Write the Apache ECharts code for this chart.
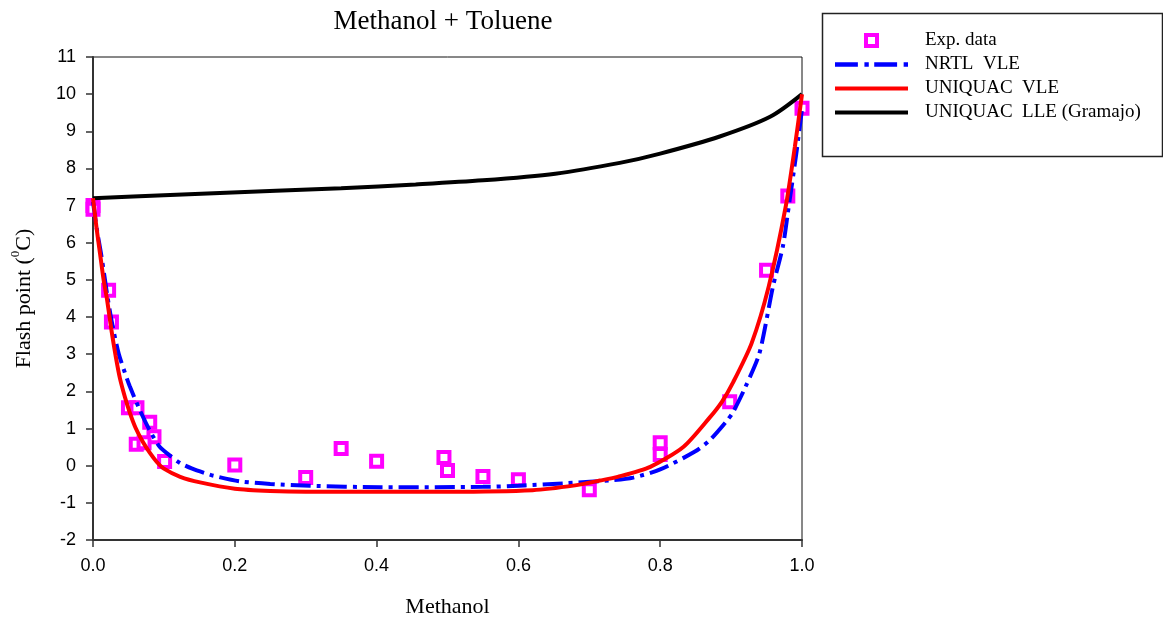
<!DOCTYPE html>
<html>
<head>
<meta charset="utf-8">
<script src="https://cdn.jsdelivr.net/npm/echarts@6/dist/echarts.min.js"></script>
<style>
html,body{margin:0;padding:0;background:#fff;}
#chart{width:1163px;height:620px;}
</style>
</head>
<body>
<div id="chart"></div>
<script>
// ---- data ----
const titleText = 'Methanol + Toluene';
const xTicks = [0.0, 0.2, 0.4, 0.6, 0.8, 1.0];
const yTicks = [-2, -1, 0, 1, 2, 3, 4, 5, 6, 7, 8, 9, 10, 11];
const seriesNames = ['Exp. data', 'NRTL  VLE', 'UNIQUAC  VLE', 'UNIQUAC  LLE (Gramajo)'];

const expData = [
  [0.0, 7.0], [0.0, 6.9], [0.022, 4.72], [0.026, 3.87], [0.05, 1.56], [0.062, 1.56],
  [0.08, 1.17], [0.086, 0.78], [0.061, 0.58], [0.072, 0.62], [0.101, 0.11],
  [0.2, 0.02], [0.3, -0.32], [0.35, 0.46], [0.4, 0.12], [0.495, 0.22], [0.5, -0.13],
  [0.55, -0.29], [0.6, -0.38], [0.7, -0.65], [0.8, 0.62], [0.8, 0.3],
  [0.898, 1.72], [0.95, 5.26], [0.98, 7.26], [1.0, 9.62]
];

const nrtlVle = [
  [0.0, 7.1], [0.006, 6.3], [0.012, 5.63], [0.02, 4.6], [0.026, 3.92], [0.036, 3.03],
  [0.045, 2.5], [0.052, 2.13], [0.066, 1.5], [0.08, 0.95], [0.094, 0.51], [0.11, 0.25],
  [0.123, 0.07], [0.14, -0.08], [0.158, -0.2], [0.17, -0.27], [0.207, -0.42],
  [0.25, -0.49], [0.306, -0.54], [0.405, -0.58], [0.55, -0.57], [0.6, -0.54],
  [0.668, -0.47], [0.733, -0.39], [0.762, -0.32], [0.8, -0.1], [0.849, 0.38],
  [0.87, 0.69], [0.894, 1.21], [0.903, 1.45], [0.92, 2.11], [0.94, 3.03],
  [0.959, 4.82], [0.973, 5.9], [0.98, 6.8], [0.992, 8.41], [1.0, 9.6]
];

const uniquacVle = [
  [0.0, 7.2], [0.005, 6.4], [0.01, 5.7], [0.015, 5.0], [0.02, 4.45], [0.026, 3.65],
  [0.032, 2.95], [0.038, 2.35], [0.045, 1.85], [0.052, 1.42], [0.06, 1.02],
  [0.07, 0.65], [0.08, 0.35], [0.09, 0.1], [0.1, -0.08], [0.123, -0.3], [0.151, -0.45],
  [0.2, -0.62], [0.25, -0.68], [0.3, -0.7], [0.4, -0.7], [0.5, -0.7], [0.62, -0.66],
  [0.68, -0.53], [0.715, -0.4], [0.74, -0.3], [0.786, -0.03], [0.833, 0.51],
  [0.87, 1.3], [0.887, 1.72], [0.903, 2.25], [0.929, 3.3], [0.953, 4.82],
  [0.977, 6.97], [0.99, 8.59], [1.0, 10.0]
];

const uniquacLle = [
  [0.0, 7.2], [0.1, 7.28], [0.258, 7.4], [0.35, 7.47], [0.455, 7.57], [0.55, 7.68],
  [0.652, 7.86], [0.743, 8.15], [0.8, 8.4], [0.884, 8.86], [0.955, 9.39], [1.0, 10.0]
];

const serif = "'Liberation Serif','Times New Roman',Times,serif";
const sans = "'Liberation Sans',Arial,Helvetica,sans-serif";

const chart = echarts.init(document.getElementById('chart'), null, {renderer: 'canvas'});

const solidIcon = 'path://M0 0H73V4H0Z';
const dashDotIcon = 'path://M0 0H21V4H0Z M27 0H31V4H27Z M36 0H57V4H36Z M63 0H67V4H63Z';

const option = {
  animation: false,
  backgroundColor: '#fff',
  title: {
    text: titleText,
    left: 443,
    top: 8,
    padding: 0,
    textAlign: 'center',
    textStyle: {fontFamily: serif, fontSize: 27, fontWeight: 'normal', color: '#000'}
  },
  graphic: [{
    type: 'rect',
    shape: {x: 822.5, y: 13.5, width: 340, height: 143},
    style: {fill: 'none', stroke: '#222', lineWidth: 1.5},
    silent: true
  }],
  legend: {
    orient: 'vertical',
    left: 835,
    top: 31,
    padding: 0,
    itemWidth: 73,
    itemHeight: 11,
    itemGap: 5,
    selectedMode: false,
    textStyle: {fontFamily: serif, fontSize: 19, color: '#000', lineHeight: 19, padding: [0, 0, 0, 12]},
    data: [
      {name: seriesNames[0], icon: 'path://M0 0H10V10H0Z', symbolKeepAspect: true,
       itemStyle: {color: '#fff', borderColor: '#ff00ff', borderWidth: 4}},
      {name: seriesNames[1], icon: dashDotIcon, symbolKeepAspect: true,
       itemStyle: {color: '#0000ff', borderWidth: 0}},
      {name: seriesNames[2], icon: solidIcon, symbolKeepAspect: true,
       itemStyle: {color: '#ff0000', borderWidth: 0}},
      {name: seriesNames[3], icon: solidIcon, symbolKeepAspect: true,
       itemStyle: {color: '#000000', borderWidth: 0}}
    ]
  },
  grid: {
    left: 93, right: 361, top: 57, bottom: 80,
    show: true, borderColor: '#111', borderWidth: 1,
    outerBoundsMode: 'none', containLabel: false
  },
  xAxis: {
    type: 'value', min: 0, max: 1, interval: 0.2,
    name: 'Methanol', nameLocation: 'middle', nameGap: 56,
    nameTextStyle: {fontFamily: serif, fontSize: 22, color: '#000'},
    axisLine: {show: true, onZero: false, lineStyle: {color: '#333', width: 2}},
    axisTick: {show: true, inside: false, length: 7, lineStyle: {color: '#333', width: 1.5}},
    axisLabel: {margin: 17, fontFamily: sans, fontSize: 18, color: '#000',
      formatter: v => (xTicks.indexOf(Math.round(v * 10) / 10) >= 0 ? v.toFixed(1) : '')},
    splitLine: {show: false}
  },
  yAxis: {
    type: 'value', min: -2, max: 11, interval: 1,
    name: '{a|Flash point (}{sup|0}{a|C)}', nameLocation: 'middle', nameGap: 58, nameRotate: 90,
    nameTextStyle: {
      fontFamily: serif, fontSize: 22, color: '#000',
      rich: {
        a: {fontFamily: serif, fontSize: 22, color: '#000', lineHeight: 26, verticalAlign: 'bottom'},
        sup: {fontFamily: serif, fontSize: 13, color: '#000', lineHeight: 26, verticalAlign: 'top', padding: [0, 0, 10, 0]}
      }
    },
    axisLine: {show: true, onZero: false, lineStyle: {color: '#333', width: 2}},
    axisTick: {show: true, inside: false, length: 7, lineStyle: {color: '#333', width: 1.5}},
    axisLabel: {margin: 17, fontFamily: sans, fontSize: 18, color: '#000',
      formatter: v => (yTicks.indexOf(v) >= 0 ? String(v) : '')},
    splitLine: {show: false}
  },
  series: [
    {
      name: seriesNames[0], type: 'scatter', data: expData, z: 2,
      symbol: 'rect', symbolSize: 11,
      itemStyle: {color: '#fff', borderColor: '#ff00ff', borderWidth: 4, opacity: 1}
    },
    {
      name: seriesNames[1], type: 'line', data: nrtlVle, z: 3,
      smooth: 0.25, symbol: 'none', showSymbol: false,
      lineStyle: {color: '#0000ff', width: 4, type: [20, 6, 4, 6], cap: 'butt'},
      itemStyle: {color: '#0000ff'}
    },
    {
      name: seriesNames[3], type: 'line', data: uniquacLle, z: 4,
      smooth: 0.3, symbol: 'none', showSymbol: false,
      lineStyle: {color: '#000', width: 4},
      itemStyle: {color: '#000'}
    },
    {
      name: seriesNames[2], type: 'line', data: uniquacVle, z: 5,
      smooth: 0.25, symbol: 'none', showSymbol: false,
      lineStyle: {color: '#ff0000', width: 4},
      itemStyle: {color: '#ff0000'}
    }
  ]
};

chart.setOption(option);
</script>
</body>
</html>
